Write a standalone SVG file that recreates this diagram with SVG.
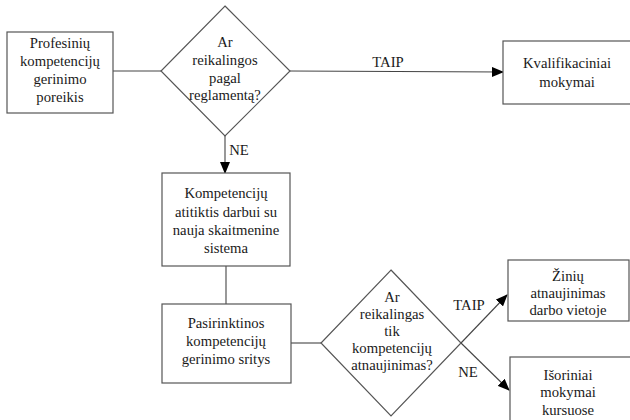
<svg xmlns="http://www.w3.org/2000/svg" width="630" height="420" viewBox="0 0 630 420">
<style>
.n{fill:#fff;stroke:#555;stroke-width:1.2}
.t{font-family:'Liberation Serif','Times New Roman',serif;font-size:14.7px;fill:#1a1a1a;text-anchor:middle}
.c{stroke:#444;stroke-width:1.1;fill:none}
</style>
<defs>
<marker id="ah" markerWidth="12" markerHeight="10" refX="11" refY="5" orient="auto" markerUnits="userSpaceOnUse">
<path d="M0,0 L12,5 L0,10 Z" fill="#000"/>
</marker>
</defs>
<rect width="630" height="420" fill="#fff"/>
<g id="connectors">
<line class="c" x1="113" y1="71" x2="161" y2="71"/>
<line class="c" x1="290" y1="71" x2="503" y2="72" marker-end="url(#ah)"/>
<line class="c" x1="225" y1="136" x2="225" y2="173" marker-end="url(#ah)"/>
<line class="c" x1="226" y1="266" x2="226" y2="304"/>
<line class="c" x1="291" y1="343" x2="321" y2="343"/>
<line class="c" x1="461" y1="343" x2="507" y2="295" marker-end="url(#ah)"/>
<line class="c" x1="461" y1="343" x2="509" y2="390" marker-end="url(#ah)"/>
<text class="t" x="388" y="67">TAIP</text>
<text class="t" x="239" y="155">NE</text>
<text class="t" x="469" y="310">TAIP</text>
<text class="t" x="468" y="377">NE</text>
</g>
<g id="n1">
<rect class="n" x="7" y="32" width="106" height="81"/>
<text class="t" x="60" y="48">Profesinių</text>
<text class="t" x="60" y="66">kompetencijų</text>
<text class="t" x="60" y="84">gerinimo</text>
<text class="t" x="60" y="102">poreikis</text>
</g>
<g id="d1">
<polygon class="n" points="225,6 290,71 225,136 161,71"/>
<text class="t" x="225" y="47">Ar</text>
<text class="t" x="225" y="65">reikalingos</text>
<text class="t" x="225" y="83">pagal</text>
<text class="t" x="225" y="100">reglamentą?</text>
</g>
<g id="n2">
<rect class="n" x="503" y="41" width="130" height="63"/>
<text class="t" x="567" y="68">Kvalifikaciniai</text>
<text class="t" x="567" y="87">mokymai</text>
</g>
<g id="n3">
<rect class="n" x="162" y="173" width="128" height="93"/>
<text class="t" x="226" y="198">Kompetencijų</text>
<text class="t" x="226" y="217">atitiktis darbui su</text>
<text class="t" x="226" y="235">nauja skaitmenine</text>
<text class="t" x="226" y="253">sistema</text>
</g>
<g id="n4">
<rect class="n" x="162" y="304" width="129" height="79"/>
<text class="t" x="226" y="328">Pasirinktinos</text>
<text class="t" x="226" y="346">kompetencijų</text>
<text class="t" x="226" y="364">gerinimo sritys</text>
</g>
<g id="d2">
<polygon class="n" points="391,270 461,343 391,416 321,343"/>
<text class="t" x="392" y="302">Ar</text>
<text class="t" x="392" y="319">reikalingas</text>
<text class="t" x="392" y="336">tik</text>
<text class="t" x="392" y="353">kompetencijų</text>
<text class="t" x="392" y="370">atnaujinimas?</text>
</g>
<g id="n5">
<rect class="n" x="508" y="260" width="121" height="61"/>
<text class="t" x="568" y="281">Žinių</text>
<text class="t" x="568" y="298">atnaujinimas</text>
<text class="t" x="568" y="315">darbo vietoje</text>
</g>
<g id="n6">
<rect class="n" x="510" y="357" width="125" height="70"/>
<text class="t" x="568" y="380">Išoriniai</text>
<text class="t" x="568" y="397">mokymai</text>
<text class="t" x="568" y="415">kursuose</text>
</g>
</svg>
